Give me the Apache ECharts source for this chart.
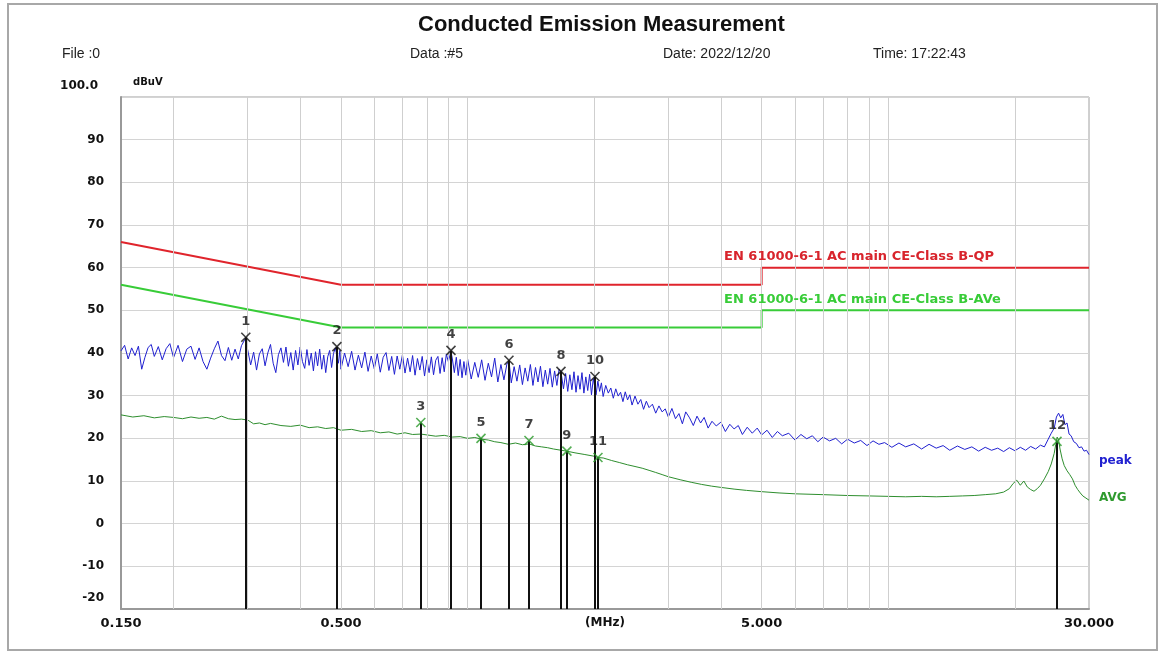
<!DOCTYPE html>
<html><head><meta charset="utf-8">
<script src="https://cdn.jsdelivr.net/npm/echarts@6/dist/echarts.min.js"></script>
<style>html,body{margin:0;padding:0;background:#fff}#c{width:1165px;height:655px}</style>
</head><body><div id="c"></div><script>
// ---------- data ----------
const xLabelValues = [0.15, 0.5, 5, 30];
const xGridFreqs = [0.2,0.3,0.4,0.5,0.6,0.7,0.8,0.9,1,2,3,4,5,6,7,8,9,10,20];
const yMin = -20, yMax = 100, yStep = 10;

const limitQP  = [[0.15,66],[0.5,56],[5,56],[5,60],[30,60]];
const limitAVG = [[0.15,56],[0.5,46],[5,46],[5,50],[30,50]];

const peakTrace = [
[0.150,40.5],[0.153,41.8],[0.156,38.6],[0.159,41.2],[0.162,39.4],[0.165,41.6],[0.168,36.2],[0.171,39.0],
[0.174,41.3],[0.177,42.0],[0.180,39.2],[0.184,41.5],[0.188,38.4],[0.192,41.0],[0.196,42.2],[0.200,38.9],
[0.205,41.8],[0.210,38.0],[0.215,40.9],[0.220,41.6],[0.225,38.5],[0.230,41.2],[0.235,38.0],[0.240,36.2],
[0.245,38.8],[0.250,41.0],[0.255,42.8],[0.260,39.4],[0.265,38.2],[0.270,41.3],[0.275,38.3],[0.280,40.9],
[0.285,38.6],[0.290,41.7],[0.297,43.6],[0.300,40.8],[0.305,37.2],[0.310,40.2],[0.315,36.0],[0.320,39.8],
[0.325,41.0],[0.330,37.0],[0.335,40.0],[0.340,42.0],[0.345,37.6],[0.350,35.4],[0.355,39.6],[0.360,41.2],
[0.365,37.8],[0.370,41.4],[0.375,36.9],[0.380,40.1],[0.385,36.0],[0.390,40.6],[0.395,37.2],[0.400,41.4],
[0.405,38.0],[0.410,36.4],[0.415,40.8],[0.420,37.1],[0.425,40.0],[0.430,35.8],[0.435,40.3],[0.440,37.0],
[0.445,40.9],[0.450,36.2],[0.455,39.5],[0.460,35.4],[0.465,39.1],[0.470,40.6],[0.475,36.6],[0.480,39.9],
[0.485,41.2],[0.489,41.6],[0.493,37.6],[0.497,40.6],[0.500,36.2],[0.51,40.0],[0.52,36.8],[0.53,40.4],
[0.54,36.0],[0.55,39.5],[0.56,36.5],[0.57,40.2],[0.58,35.7],[0.59,39.3],[0.60,36.3],[0.61,39.8],
[0.62,35.5],[0.63,39.0],[0.64,40.1],[0.65,35.9],[0.66,39.2],[0.67,35.0],[0.68,39.3],[0.69,36.2],
[0.70,39.6],[0.71,35.3],[0.72,38.8],[0.73,35.6],[0.74,39.4],[0.75,34.8],[0.76,38.7],[0.77,36.0],
[0.78,39.2],[0.79,34.6],[0.80,38.4],[0.81,35.4],[0.82,39.1],[0.83,34.9],[0.84,38.3],[0.85,39.2],
[0.86,35.2],[0.87,38.9],[0.88,35.6],[0.89,39.7],[0.90,38.0],[0.913,40.4],[0.92,38.6],[0.93,35.4],
[0.94,39.0],[0.95,34.7],[0.96,38.5],[0.97,34.2],[0.98,38.0],[0.99,34.8],[1.00,38.6],[1.02,33.9],
[1.04,37.8],[1.06,34.3],[1.08,38.4],[1.10,33.6],[1.12,37.6],[1.14,34.4],[1.16,38.8],[1.18,33.2],
[1.20,37.3],[1.22,33.7],[1.24,37.4],[1.254,38.2],[1.27,33.0],[1.29,36.8],[1.31,33.4],[1.33,37.2],
[1.35,32.6],[1.37,36.5],[1.39,33.4],[1.41,37.3],[1.43,32.4],[1.45,36.6],[1.47,33.2],[1.49,36.9],
[1.51,32.1],[1.53,36.0],[1.55,32.7],[1.57,36.4],[1.59,32.0],[1.61,35.8],[1.63,32.4],[1.65,36.2],
[1.667,35.6],[1.69,31.6],[1.71,35.2],[1.73,31.0],[1.75,34.9],[1.77,31.4],[1.79,35.6],[1.81,30.8],
[1.83,34.7],[1.85,31.5],[1.87,35.4],[1.89,30.6],[1.91,34.4],[1.93,31.2],[1.95,35.0],[1.97,30.2],
[1.99,34.0],[2.008,34.4],[2.02,30.2],[2.04,33.4],[2.06,31.0],[2.08,33.0],[2.10,29.8],[2.13,32.4],
[2.16,30.6],[2.19,31.8],[2.22,29.4],[2.25,31.6],[2.28,29.9],[2.31,30.8],[2.34,28.6],[2.37,30.9],
[2.40,29.0],[2.43,30.2],[2.46,27.8],[2.50,29.9],[2.54,28.0],[2.58,29.1],[2.62,26.8],[2.66,28.7],
[2.70,27.2],[2.75,28.0],[2.80,25.9],[2.85,27.6],[2.90,26.2],[2.95,26.9],[3.00,25.0],[3.06,27.0],
[3.12,24.6],[3.18,25.8],[3.24,23.4],[3.30,26.2],[3.37,24.8],[3.44,23.0],[3.51,25.2],[3.58,23.6],
[3.65,24.9],[3.73,22.4],[3.81,24.0],[3.90,22.9],[4.00,23.8],[4.10,21.6],[4.20,23.3],[4.30,22.2],
[4.40,23.0],[4.50,20.9],[4.62,22.6],[4.75,21.2],[4.88,22.4],[5.00,20.8],[5.15,21.9],[5.30,20.2],
[5.45,21.6],[5.60,20.6],[5.80,21.2],[6.00,19.6],[6.20,20.9],[6.40,19.9],[6.60,20.6],[6.80,19.2],
[7.00,20.3],[7.25,19.4],[7.50,20.0],[7.75,18.7],[8.00,19.8],[8.30,18.9],[8.60,19.5],[8.90,18.3],
[9.20,19.4],[9.50,18.6],[9.80,19.0],[10.2,17.9],[10.6,18.9],[11.0,18.0],[11.5,18.7],[12.0,17.5],
[12.5,18.6],[13.0,17.7],[13.5,18.3],[14.0,17.2],[14.6,18.2],[15.2,17.4],[15.8,18.0],[16.4,17.0],
[17.0,17.9],[17.6,17.2],[18.2,17.7],[18.8,16.9],[19.4,17.8],[20.0,17.1],[20.6,17.9],[21.2,17.2],
[21.8,18.1],[22.4,17.5],[23.0,18.4],[23.5,18.0],[24.0,19.8],[24.4,21.2],[24.8,22.4],[25.1,25.0],
[25.4,25.9],[25.7,24.8],[26.0,25.6],[26.3,23.2],[26.6,23.6],[26.9,21.0],[27.2,20.6],[27.6,19.2],
[28.0,18.8],[28.4,17.8],[28.8,18.0],[29.2,17.0],[29.6,17.2],[30.0,16.2]
];

const avgTrace = [
[0.150,25.5],[0.16,25.0],[0.17,25.3],[0.18,24.8],[0.19,25.1],[0.20,24.9],[0.21,24.6],[0.22,25.0],
[0.23,24.7],[0.24,24.9],[0.25,24.5],[0.26,25.2],[0.27,24.6],[0.28,24.4],[0.29,24.5],[0.30,24.3],
[0.31,23.4],[0.32,23.6],[0.33,23.2],[0.34,23.5],[0.36,23.0],[0.38,22.8],[0.40,23.1],[0.42,22.5],
[0.44,22.7],[0.46,22.3],[0.48,22.5],[0.50,21.9],[0.53,22.1],[0.56,21.6],[0.59,21.8],[0.62,21.3],
[0.65,21.5],[0.68,21.0],[0.71,21.3],[0.74,20.9],[0.774,21.0],[0.80,20.8],[0.84,20.5],[0.88,20.7],
[0.92,20.3],[0.96,20.4],[1.00,20.0],[1.04,20.2],[1.08,19.8],[1.12,19.6],[1.16,19.2],[1.20,19.0],
[1.25,18.6],[1.30,18.9],[1.35,18.5],[1.40,18.7],[1.45,18.2],[1.50,18.0],[1.55,17.8],[1.60,17.5],
[1.67,17.2],[1.72,17.0],[1.80,16.6],[1.90,16.2],[2.00,15.8],[2.04,15.5],[2.10,15.4],[2.20,14.8],
[2.30,14.3],[2.40,13.8],[2.50,13.4],[2.60,13.0],[2.70,12.5],[2.80,12.0],[2.90,11.5],[3.00,11.0],
[3.20,10.3],[3.40,9.7],[3.60,9.2],[3.80,8.8],[4.00,8.5],[4.30,8.1],[4.60,7.8],[5.00,7.5],
[5.50,7.2],[6.00,7.0],[7.00,6.8],[8.00,6.6],[9.00,6.5],[10.0,6.4],[11.0,6.3],[12.0,6.4],
[13.0,6.3],[14.0,6.4],[15.0,6.5],[16.0,6.6],[17.0,6.8],[18.0,7.0],[18.8,7.4],[19.4,8.2],
[19.8,9.4],[20.2,10.2],[20.6,9.0],[21.0,10.0],[21.4,8.6],[21.8,8.0],[22.2,7.6],[22.6,8.2],
[23.0,9.0],[23.5,10.5],[24.0,12.2],[24.4,14.0],[24.8,16.5],[25.0,18.5],[25.2,20.3],[25.4,19.6],
[25.6,17.5],[25.9,15.2],[26.2,13.6],[26.6,12.4],[27.0,11.5],[27.4,10.5],[27.8,9.0],[28.2,8.0],
[28.6,7.2],[29.0,6.5],[29.5,6.0],[30.0,5.5]
];

const markerNo    = [1, 2, 3, 4, 5, 6, 7, 8, 9, 10, 11, 12];
const markerFreq  = [0.297, 0.489, 0.774, 0.913, 1.076, 1.254, 1.399, 1.667, 1.722, 2.008, 2.041, 25.18];
const markerLevel = [43.7, 41.5, 23.7, 40.6, 20.0, 38.3, 19.5, 35.7, 17.0, 34.5, 15.5, 19.3];
const markerTrace = ['peak','peak','avg','peak','avg','peak','avg','peak','avg','peak','avg','avg'];

const qpLabel  = 'EN 61000-6-1 AC main CE-Class B-QP';
const avLabel  = 'EN 61000-6-1 AC main CE-Class B-AVe';
const qpLabelAt = [4.07, 62.6];
const avLabelAt = [4.07, 52.6];

// ---------- chart ----------
const bitFont = 'DejaVu Sans';
const chart = echarts.init(document.getElementById('c'), null, {renderer:'canvas'});
const xSym = 'path://M0,0L10,10M10,0L0,10';

const markerPoints = markerNo.map((n, i) => ({
  value: [markerFreq[i], markerLevel[i]],
  name: String(n),
  itemStyle: { color: 'none', borderColor: markerTrace[i] === 'peak' ? '#111' : '#2a9a2a', borderWidth: 1.6 }
}));
const markerLines = markerNo.map((n, i) => [
  { coord: [markerFreq[i], markerLevel[i]] },
  { coord: [markerFreq[i], yMin] }
]);

chart.setOption({
  animation: false,
  backgroundColor: '#fff',
  title: {
    text: 'Conducted Emission Measurement',
    left: 413, top: 9,
    textStyle: { fontFamily: 'Liberation Sans', fontWeight: 'bold', fontSize: 22, color: '#111' }
  },
  graphic: [
    { type: 'rect', shape: { x: 8, y: 4, width: 1149, height: 646 }, style: { fill: 'none', stroke: '#a8a8a8', lineWidth: 2 }, silent: true },
    { type: 'text', left: 62, top: 47, style: { text: 'File :0', font: '14px "Liberation Sans"', fill: '#222' } },
    { type: 'text', left: 410, top: 47, style: { text: 'Data :#5', font: '14px "Liberation Sans"', fill: '#222' } },
    { type: 'text', left: 663, top: 47, style: { text: 'Date: 2022/12/20', font: '14px "Liberation Sans"', fill: '#222' } },
    { type: 'text', left: 873, top: 47, style: { text: 'Time: 17:22:43', font: '14px "Liberation Sans"', fill: '#222' } }
  ],
  grid: { left: 121, right: 76, top: 97, bottom: 46, show: true, borderColor: '#a0a0a0', borderWidth: 1 },
  xAxis: {
    type: 'log', logBase: 10, min: 0.15, max: 30,
    name: '(MHz)', nameLocation: 'middle', nameGap: 8, nameMoveOverlap: false,
    nameTextStyle: { fontFamily: bitFont, fontWeight: 'bold', fontSize: 12, color: '#111', verticalAlign: 'top' },
    axisLine: { show: true, onZero: false, lineStyle: { color: '#999', width: 2 } },
    axisTick: { show: false },
    splitLine: { show: false },
    axisLabel: {
      customValues: xLabelValues, margin: 8,
      formatter: v => Number(v).toFixed(3),
      fontFamily: bitFont, fontWeight: 'bold', fontSize: 13, color: '#111'
    }
  },
  yAxis: {
    type: 'value', min: yMin, max: yMax, interval: yStep,
    name: 'dBuV', nameLocation: 'end', nameGap: 10,
    nameTextStyle: { fontFamily: bitFont, fontWeight: 'bold', fontSize: 10, color: '#111', align: 'left', padding: [0, 0, 0, 12] },
    axisLine: { show: true, onZero: false, lineStyle: { color: '#999', width: 2 } },
    axisTick: { show: false },
    splitLine: { show: true, lineStyle: { color: '#d4d4d4', width: 1 } },
    axisLabel: {
      margin: 17,
      fontFamily: bitFont, fontWeight: 'bold', fontSize: 12, color: '#111',
      formatter: v => v === yMax ? '{hi|100.0}' : (v === yMin ? '{lo|-20}' : String(v)),
      rich: {
        hi: { fontFamily: bitFont, fontWeight: 'bold', fontSize: 12, color: '#111', padding: [0, 6, 22, 0] },
        lo: { fontFamily: bitFont, fontWeight: 'bold', fontSize: 12, color: '#111', padding: [0, 0, 22, 0] }
      }
    }
  },
  series: [
    { name: 'vgrid', type: 'line', data: [], silent: true, z: 0,
      markLine: { silent: true, symbol: ['none', 'none'], label: { show: false },
        lineStyle: { color: '#cfcfcf', width: 1, type: 'solid' },
        data: xGridFreqs.map(f => ({ xAxis: f })) } },
    { name: 'QP limit', type: 'line', data: limitQP, showSymbol: false, silent: true,
      lineStyle: { color: '#e0242c', width: 2 },
      markPoint: { silent: true, symbol: 'circle', symbolSize: 0,
        data: [{ coord: qpLabelAt, label: { show: true, position: 'right', distance: 0, formatter: qpLabel,
          fontFamily: bitFont, fontWeight: 'bold', fontSize: 13, color: '#d8242c' } }] } },
    { name: 'AVG limit', type: 'line', data: limitAVG, showSymbol: false, silent: true,
      lineStyle: { color: '#38cc38', width: 2 },
      markPoint: { silent: true, symbol: 'circle', symbolSize: 0,
        data: [{ coord: avLabelAt, label: { show: true, position: 'right', distance: 0, formatter: avLabel,
          fontFamily: bitFont, fontWeight: 'bold', fontSize: 13, color: '#38cc38' } }] } },
    { name: 'AVG', type: 'line', data: avgTrace, showSymbol: false, silent: true,
      lineStyle: { color: '#2e8e2e', width: 1 },
      endLabel: { show: true, formatter: 'AVG', offset: [2, -2], fontFamily: bitFont, fontWeight: 'bold', fontSize: 12, color: '#2e9a2e' } },
    { name: 'peak', type: 'line', data: peakTrace, showSymbol: false, silent: true,
      lineStyle: { color: '#2020d0', width: 1 },
      endLabel: { show: true, formatter: 'peak', offset: [2, 6], fontFamily: bitFont, fontWeight: 'bold', fontSize: 12, color: '#2020d0' } },
    { name: 'markers', type: 'scatter', data: markerPoints, symbol: xSym, symbolSize: 9, silent: true, z: 5,
      label: { show: true, position: 'top', distance: 2, formatter: p => p.name,
        fontFamily: bitFont, fontWeight: 'bold', fontSize: 13, color: '#111' },
      markLine: { silent: true, symbol: ['none', 'none'], label: { show: false },
        lineStyle: { color: '#111', width: 2, type: 'solid' }, data: markerLines } }
  ]
});
</script></body></html>
